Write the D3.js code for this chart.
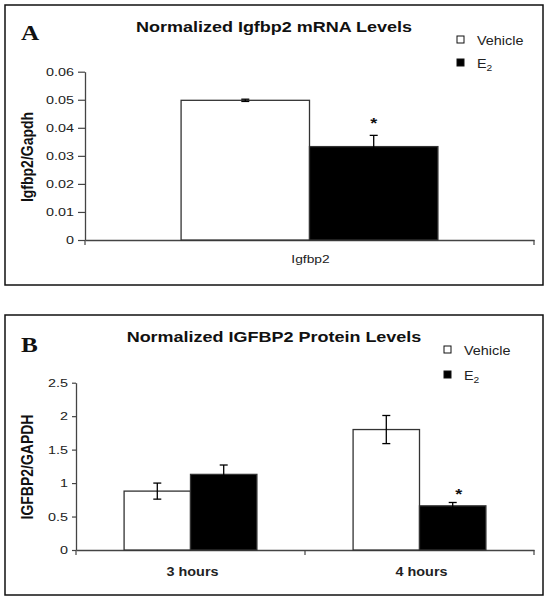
<!DOCTYPE html>
<html><head><meta charset="utf-8">
<script src="https://cdn.jsdelivr.net/npm/d3@7"></script>
<style>body{margin:0;background:#fff}svg{display:block}</style>
</head><body>
<script>
// ---- Data ----
const seriesNames = ["Vehicle", "E2"];
// Panel A
const aCategories = ["Igfbp2"];
const aVehicle = [0.0498];
const aVehicleErr = [0.0004];
const aE2 = [0.0333];
const aE2Err = [0.0040];
const aTicks = [0, 0.01, 0.02, 0.03, 0.04, 0.05, 0.06];
const aTickLabels = ["0", "0.01", "0.02", "0.03", "0.04", "0.05", "0.06"];
// Panel B
const bCategories = ["3 hours", "4 hours"];
const bVehicle = [0.88, 1.80];
const bVehicleErr = [0.12, 0.21];
const bE2 = [1.13, 0.66];
const bE2Err = [0.14, 0.05];
const bTicks = [0, 0.5, 1, 1.5, 2, 2.5];
const bTickLabels = ["0", "0.5", "1", "1.5", "2", "2.5"];
const bSigE2 = [false, true];

const W = 548, H = 600;
const SX = 1.2; // horizontal stretch of the original figure's lettering
const svg = d3.select("body").append("svg").attr("width", W).attr("height", H);
const FONT = "Liberation Sans, Arial, sans-serif";

function txt(g, x, y, s, sx) {
  return g.append("text").attr("transform", `translate(${x},${y}) scale(${sx || SX},1)`).text(s);
}

function panel(cfg) {
  const g = svg.append("g");
  g.append("rect").attr("x", cfg.box[0]).attr("y", cfg.box[1])
    .attr("width", cfg.box[2]).attr("height", cfg.box[3])
    .attr("fill", "none").attr("stroke", "#111").attr("stroke-width", 1.5);
  // letter
  txt(g, cfg.letterPos[0], cfg.letterPos[1], cfg.letter)
    .attr("font-family", "Liberation Serif, Times New Roman, serif").attr("font-weight", "bold")
    .attr("font-size", 21).attr("fill", "#111");
  // title
  txt(g, cfg.titlePos[0], cfg.titlePos[1], cfg.title)
    .attr("text-anchor", "middle")
    .attr("font-family", FONT).attr("font-weight", "bold").attr("font-size", 15)
    .attr("fill", "#111");

  const y = d3.scaleLinear().domain(cfg.yDomain).range(cfg.yRange);
  const x = d3.scaleBand().domain(cfg.categories).range(cfg.xRange).padding(0);
  const inner = d3.scaleBand().domain(seriesNames).range([0, x.bandwidth() * cfg.groupFrac]);
  const off = x.bandwidth() * (1 - cfg.groupFrac) / 2;

  const data = [];
  cfg.categories.forEach((c, i) => {
    data.push({c, s: "Vehicle", v: cfg.vehicle[i], e: cfg.vehicleErr[i], sig: cfg.sigV[i]});
    data.push({c, s: "E2", v: cfg.e2[i], e: cfg.e2Err[i], sig: cfg.sigE[i]});
  });

  // y axis
  const yAxis = d3.axisLeft(y).tickValues(cfg.ticks).tickSizeInner(cfg.tickLen).tickSizeOuter(0)
    .tickFormat((d, i) => cfg.tickLabels[i]);
  const ya = g.append("g").attr("transform", `translate(${cfg.xRange[0]},0)`).call(yAxis);
  ya.select(".domain").attr("stroke", "#444").attr("stroke-width", 1.3);
  ya.selectAll(".tick line").attr("stroke", "#444").attr("stroke-width", 1.2);
  ya.selectAll(".tick text").attr("font-family", FONT).attr("font-size", 11.5)
    .attr("fill", "#222").attr("x", 0)
    .attr("transform", `translate(${-cfg.tickLen - 4},0) scale(1.25,1)`);

  // x axis
  const xa = g.append("g").attr("transform", `translate(0,${y(0)})`)
    .call(d3.axisBottom(x).tickSize(0).tickSizeOuter(0).tickFormat(""));
  xa.select(".domain").attr("stroke", "#444").attr("stroke-width", 1.3);
  xa.selectAll(".tick").remove();
  const bounds = cfg.categories.map(c => x(c)).concat([cfg.xRange[1]]);
  xa.selectAll("line.bt").data(bounds).join("line").attr("class", "bt")
    .attr("x1", d => d).attr("x2", d => d).attr("y1", 0).attr("y2", 5)
    .attr("stroke", "#444").attr("stroke-width", 1.2);

  // bars
  g.selectAll("rect.bar").data(data).join("rect").attr("class", "bar")
    .attr("x", d => x(d.c) + off + inner(d.s))
    .attr("y", d => y(d.v))
    .attr("width", inner.bandwidth())
    .attr("height", d => y(0) - y(d.v))
    .attr("fill", d => d.s === "Vehicle" ? "#fff" : "#000")
    .attr("stroke", "#333").attr("stroke-width", 1.3);

  // error bars
  const cx = d => x(d.c) + off + inner(d.s) + inner.bandwidth() / 2;
  const eb = g.selectAll("g.err").data(data).join("g").attr("class", "err")
    .attr("stroke", "#000").attr("stroke-width", 1.3);
  eb.append("line").attr("x1", cx).attr("x2", cx)
    .attr("y1", d => y(d.v + d.e)).attr("y2", d => y(d.v - d.e));
  eb.append("line").attr("x1", d => cx(d) - 4).attr("x2", d => cx(d) + 4)
    .attr("y1", d => y(d.v + d.e)).attr("y2", d => y(d.v + d.e));
  eb.append("line").attr("x1", d => cx(d) - 4).attr("x2", d => cx(d) + 4)
    .attr("y1", d => y(d.v - d.e)).attr("y2", d => y(d.v - d.e));

  // significance asterisk
  data.filter(d => d.sig).forEach(d => {
    txt(g, cx(d) + cfg.sigDx, y(d.v + d.e) - cfg.sigGap, "*")
      .attr("text-anchor", "middle").attr("font-family", FONT).attr("font-weight", "bold")
      .attr("font-size", 15).attr("fill", "#111");
  });

  // category labels
  cfg.categories.forEach(c => {
    txt(g, x(c) + x.bandwidth() / 2 + cfg.catDx, cfg.catY, c)
      .attr("text-anchor", "middle").attr("font-family", FONT)
      .attr("font-weight", cfg.catBold ? "bold" : "normal")
      .attr("font-size", cfg.catBold ? 12 : 11.5).attr("fill", "#222");
  });

  // y label
  g.append("text").attr("transform", `translate(${cfg.yLabelPos[0]},${cfg.yLabelPos[1]}) scale(${SX},1) rotate(-90)`)
    .attr("text-anchor", "middle").attr("font-family", FONT).attr("font-weight", "bold")
    .attr("font-size", 14).attr("fill", "#111").text(cfg.yLabel);

  // legend
  seriesNames.forEach((s, i) => {
    const ly = cfg.legendPos[1] + i * cfg.legendGap;
    g.append("rect").attr("x", cfg.legendPos[0]).attr("y", ly - 4).attr("width", 7).attr("height", 7)
      .attr("fill", s === "Vehicle" ? "#fff" : "#000").attr("stroke", "#111").attr("stroke-width", 1);
    const t = txt(g, cfg.legendPos[0] + 20, ly + 5, null)
      .attr("font-family", FONT).attr("font-size", 12).attr("fill", "#222");
    if (s === "E2") {
      t.append("tspan").text("E");
      t.append("tspan").attr("font-size", 8.5).attr("dy", 3).text("2");
    } else t.text(s);
  });
}

panel({
  box: [5, 5, 538, 280], letter: "A", letterPos: [21, 40],
  title: "Normalized Igfbp2 mRNA Levels", titlePos: [274, 32],
  categories: aCategories, vehicle: aVehicle, vehicleErr: aVehicleErr, e2: aE2, e2Err: aE2Err,
  sigV: [false], sigE: [true], sigGap: 7, sigDx: 0,
  yDomain: [0, 0.06], yRange: [240, 71.7], xRange: [85, 534], groupFrac: 0.572,
  ticks: aTicks, tickLabels: aTickLabels, tickLen: 7,
  catY: 263, catBold: false, catDx: 1,
  yLabel: "Igfbp2/Gapdh", yLabelPos: [33, 157],
  legendPos: [457, 40], legendGap: 23
});

panel({
  box: [5, 315, 538, 280], letter: "B", letterPos: [21, 352],
  title: "Normalized IGFBP2 Protein Levels", titlePos: [274, 342],
  categories: bCategories, vehicle: bVehicle, vehicleErr: bVehicleErr, e2: bE2, e2Err: bE2Err,
  sigV: [false, false], sigE: bSigE2, sigGap: 3.5, sigDx: 6,
  yDomain: [0, 2.5], yRange: [550, 382.7], xRange: [76, 534], groupFrac: 0.58,
  ticks: bTicks, tickLabels: bTickLabels, tickLen: 4,
  catY: 576, catBold: true, catDx: 2,
  yLabel: "IGFBP2/GAPDH", yLabelPos: [33, 467],
  legendPos: [444, 350], legendGap: 25
});
</script>
</body></html>
